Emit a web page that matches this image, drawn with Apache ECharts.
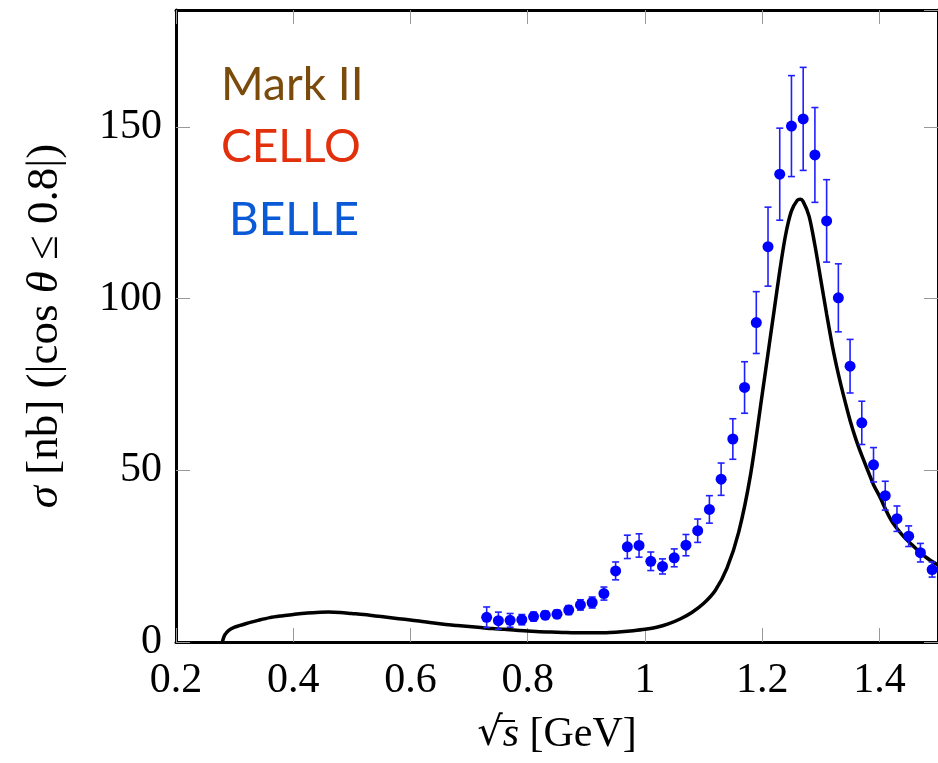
<!DOCTYPE html>
<html>
<head>
<meta charset="utf-8">
<script src="https://cdn.jsdelivr.net/npm/echarts@6/dist/echarts.min.js"></script>
<style>
html,body{margin:0;padding:0;background:#fff;}
#chart{width:938px;height:763px;}
</style>
</head>
<body>
<div id="chart"></div>
<script>
// BELLE data (sqrt(s) in GeV, sigma in nb, symmetric error)
var belleX = [0.73,0.75,0.77,0.79,0.81,0.83,0.85,0.87,0.89,0.91,0.93,0.95,0.97,0.99,1.01,1.03,1.05,1.07,1.09,1.11,1.13,1.15,1.17,1.19,1.21,1.23,1.25,1.27,1.29,1.31,1.33,1.35,1.37,1.39,1.41,1.43,1.45,1.47,1.49];
var belleY = [7.2,6.2,6.3,6.5,7.4,7.8,8.1,9.3,10.8,11.5,14.1,20.7,27.7,28.1,23.5,22.0,24.5,28.2,32.4,38.6,47.4,59.1,74.1,93.0,115.1,136.2,150.2,152.3,141.8,122.6,100.2,80.3,63.8,51.6,42.6,35.9,30.8,26.0,21.1];
var belleErr = [3.0,2.5,2.0,1.5,1.3,1.2,1.2,1.3,1.5,1.6,1.9,2.6,3.4,3.4,2.7,2.2,2.6,3.1,3.4,4.0,4.7,5.9,7.5,9.0,11.5,13.4,14.7,15.0,13.8,12.0,9.9,7.8,6.3,5.0,4.2,3.7,3.0,2.7,2.2];

// Theory curve
var curveX = [0.279,0.283,0.29,0.30,0.32,0.34,0.36,0.38,0.40,0.42,0.44,0.46,0.48,0.50,0.52,0.54,0.56,0.58,0.60,0.62,0.64,0.66,0.68,0.70,0.72,0.74,0.76,0.78,0.80,0.82,0.84,0.86,0.88,0.90,0.92,0.94,0.96,0.98,1.00,1.02,1.04,1.06,1.08,1.10,1.12,1.14,1.16,1.18,1.20,1.21,1.22,1.23,1.24,1.25,1.26,1.265,1.27,1.28,1.29,1.30,1.31,1.32,1.33,1.34,1.35,1.36,1.37,1.38,1.39,1.40,1.42,1.44,1.46,1.48,1.50];
var curveY = [0,2.0,3.4,4.3,5.4,6.3,7.1,7.6,8.0,8.4,8.6,8.7,8.6,8.3,8.0,7.6,7.2,6.8,6.4,6.0,5.5,5.1,4.8,4.5,4.2,3.9,3.7,3.4,3.2,3.0,2.9,2.8,2.7,2.7,2.7,2.8,3.0,3.3,3.7,4.3,5.3,6.7,8.6,11.2,15.0,21.5,32.0,48.5,72.0,84.0,96.0,108.0,118.5,125.5,128.6,128.9,128.2,124.0,115.5,105.5,95.5,86.0,78.0,71.0,64.5,59.0,54.3,50.0,45.8,42.5,35.5,31.0,27.6,24.6,22.4];

// Axis ticks
var xTickValues = [0.2,0.4,0.6,0.8,1.0,1.2,1.4];
var xTickLabels = ['0.2','0.4','0.6','0.8','1','1.2','1.4'];
var yTickValues = [0,50,100,150];
var yTickLabels = ['0','50','100','150'];

var legendTexts = ['Mark II','CELLO','BELLE'];

var belleData = belleX.map(function(x,i){return [x, belleY[i], belleErr[i]];});
var curveData = curveX.map(function(x,i){return [x, curveY[i]];});

function lookup(vals, labels, v){
  for (var i=0;i<vals.length;i++){ if (Math.abs(vals[i]-v)<1e-6) return labels[i]; }
  return '';
}

var serif = 'Liberation Serif';
var tickStyle = {inside:true, length:14, lineStyle:{color:'#999', width:1}};
var lineStyle = {lineStyle:{color:'#000', width:3}, onZero:false};

var chart = echarts.init(document.getElementById('chart'), null, {renderer:'canvas'});
chart.setOption({
  backgroundColor:'#fff',
  animation:false,
  grid:{left:176, top:10, width:764, height:632, containLabel:false},
  xAxis:[{
    type:'value', min:0.2, max:1.5, interval:0.2, position:'bottom',
    axisLine:lineStyle, axisTick:tickStyle, splitLine:{show:false},
    axisLabel:{fontFamily:serif, fontSize:42, color:'#000', margin:18, showMaxLabel:false,
      formatter:function(v){return lookup(xTickValues, xTickLabels, v);}},
    name:'{r|√}{i|s} [GeV]', nameLocation:'middle', nameGap:72,
    nameTextStyle:{fontFamily:serif, fontSize:42, color:'#000',
      rich:{r:{fontFamily:'DejaVu Serif', fontSize:40, color:'#000'}, i:{fontFamily:serif, fontStyle:'italic', fontSize:42, color:'#000'}}}
  },{
    type:'value', min:0.2, max:1.5, interval:0.2, position:'top',
    axisLine:lineStyle, axisTick:tickStyle, splitLine:{show:false}, axisLabel:{show:false}
  }],
  yAxis:[{
    type:'value', min:0, max:184, interval:50, position:'left',
    axisLine:lineStyle, axisTick:tickStyle, splitLine:{show:false},
    axisLabel:{fontFamily:serif, fontSize:42, color:'#000', margin:14, showMaxLabel:false,
      formatter:function(v){return lookup(yTickValues, yTickLabels, v);}},
    name:'{i|σ} [nb] (|cos {i|θ} ≤ 0.8|)', nameLocation:'middle', nameGap:108, nameRotate:90,
    nameTextStyle:{fontFamily:serif, fontSize:45, color:'#000',
      rich:{i:{fontFamily:serif, fontStyle:'italic', fontSize:45, color:'#000'}}}
  },{
    type:'value', min:0, max:184, interval:50, position:'right',
    axisLine:lineStyle, axisTick:tickStyle, splitLine:{show:false}, axisLabel:{show:false}
  }],
  series:[{
    type:'line', xAxisIndex:0, yAxisIndex:0, data:curveData, smooth:0.3,
    showSymbol:false, symbol:'none', lineStyle:{color:'#000', width:3.5}, z:2, clip:true
  },{
    type:'custom', xAxisIndex:0, yAxisIndex:0, data:belleData, z:3, clip:true,
    renderItem:function(params, api){
      var x=api.value(0), y=api.value(1), e=api.value(2);
      var t=api.coord([x,y+e]), b=api.coord([x,y-e]);
      var hw=3.5;
      var st={stroke:'#2020ff', lineWidth:1.6};
      return {type:'group', children:[
        {type:'line', shape:{x1:t[0],y1:t[1],x2:b[0],y2:b[1]}, style:st},
        {type:'line', shape:{x1:t[0]-hw,y1:t[1],x2:t[0]+hw,y2:t[1]}, style:st},
        {type:'line', shape:{x1:b[0]-hw,y1:b[1],x2:b[0]+hw,y2:b[1]}, style:st}
      ]};
    },
    encode:{x:0, y:1}
  },{
    type:'scatter', xAxisIndex:0, yAxisIndex:0, z:4,
    data:belleData.map(function(d){return [d[0], d[1]];}),
    symbol:'circle', symbolSize:11, itemStyle:{color:'#0000ff', opacity:1}
  }],
  graphic:[
    {type:'text', left:221, top:62, style:{text:legendTexts[0], fontFamily:'Lato', fontSize:46, fill:'#7b4b0c'}},
    {type:'text', left:221, top:124, style:{text:legendTexts[1], fontFamily:'Lato', fontSize:46, fill:'#e2300c'}},
    {type:'text', left:229, top:197, style:{text:legendTexts[2], fontFamily:'Lato', fontSize:46, fill:'#0a5ad8'}},
    {type:'line', shape:{x1:496, y1:721, x2:515, y2:721}, style:{stroke:'#000', lineWidth:2}}
  ]
});
</script>
</body>
</html>
